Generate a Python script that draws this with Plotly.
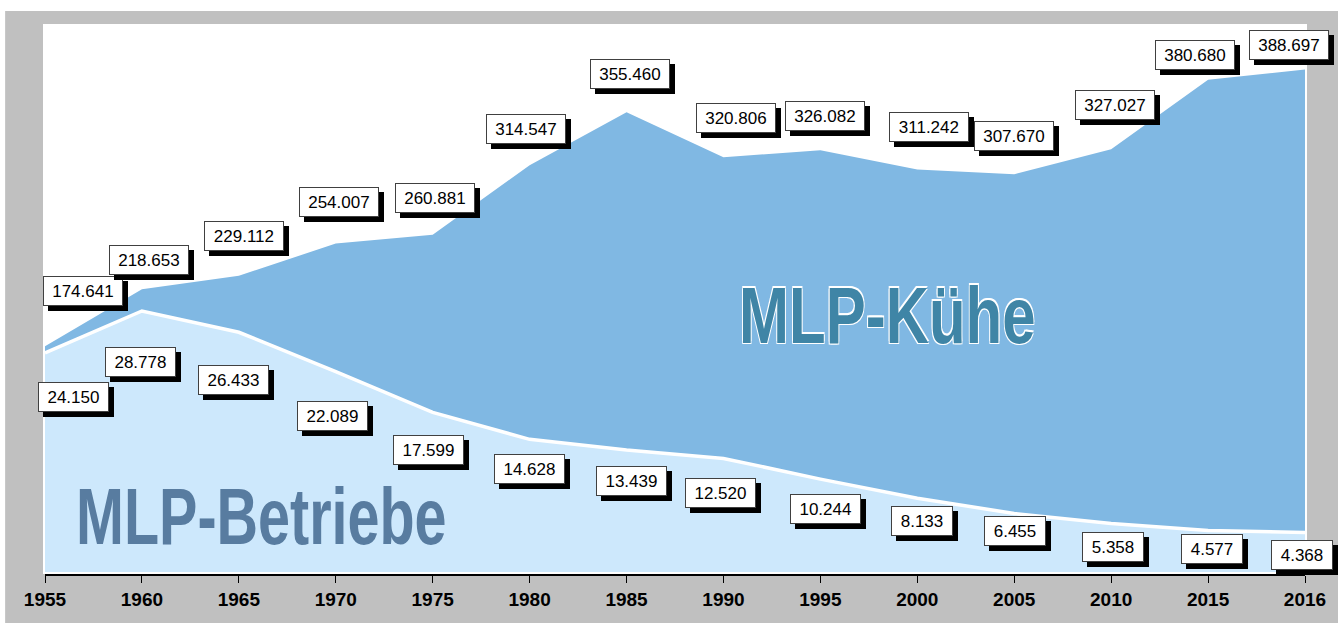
import plotly.graph_objects as go

# ---- data ----
years = ["1955", "1960", "1965", "1970", "1975", "1980", "1985", "1990",
         "1995", "2000", "2005", "2010", "2015", "2016"]
kuehe = [174641, 218653, 229112, 254007, 260881, 314547, 355460, 320806,
         326082, 311242, 307670, 327027, 380680, 388697]
betriebe = [24150, 28778, 26433, 22089, 17599, 14628, 13439, 12520,
            10244, 8133, 6455, 5358, 4577, 4368]


def de(v):
    return f"{v:,}".replace(",", ".")


kuehe_labels = [de(v) for v in kuehe]
betriebe_labels = [de(v) for v in betriebe]

# ---- label offsets (pixels, relative to data point) ----
kuehe_off = [(38, -55), (7, -29), (5.5, -40), (3, -42), (2, -37), (-4, -36),
             (3, -38), (13, -39), (5, -34), (12, -43), (0, -38), (3.5, -44),
             (-13, -25), (-16, -24)]
betriebe_off = [(28, 44), (-1, 51), (-5.5, 48), (-3, 44), (-4, 38), (0, 30),
                (4.6, 31), (-2.6, 35), (5, 30), (5, 23), (1, 17.5), (1.5, 23.6),
                (4, 18.5), (-3, 22.6)]

KUEHE_FILL = "#80b8e3"
BETR_FILL = "#cde8fc"

fig = go.Figure()
fig.add_trace(go.Scatter(
    x=list(range(len(years))), y=kuehe, mode="lines", fill="tozeroy",
    fillcolor=KUEHE_FILL, line=dict(width=0, color=KUEHE_FILL),
    yaxis="y", hoverinfo="skip", showlegend=False))
fig.add_trace(go.Scatter(
    x=list(range(len(years))), y=betriebe, mode="lines", fill="tozeroy",
    fillcolor=BETR_FILL, line=dict(width=3.5, color="white"),
    yaxis="y2", hoverinfo="skip", showlegend=False))

L, R, T, B = 45, 29, 24, 51
W, H = 1338, 625
PW, PH = W - L - R, H - T - B


def px(xp):
    return (xp - L) / PW


def py(yp):
    return (H - B - yp) / PH


shapes = [
    dict(type="rect", xref="paper", yref="paper", x0=px(43), x1=px(1311),
         y0=py(574), y1=py(24), fillcolor="white", line=dict(width=0), layer="below"),
    dict(type="rect", xref="paper", yref="paper", x0=px(-5), x1=px(1345),
         y0=py(11), y1=py(-5), fillcolor="white", line=dict(width=0), layer="below"),
    dict(type="rect", xref="paper", yref="paper", x0=px(-5), x1=px(5),
         y0=py(630), y1=py(-5), fillcolor="white", line=dict(width=0), layer="below"),
    dict(type="rect", xref="paper", yref="paper", x0=px(-5), x1=px(1345),
         y0=py(630), y1=py(623), fillcolor="white", line=dict(width=0), layer="below"),
]

annotations = []
LBL_FONT = "Liberation Sans, Arial, sans-serif"


def text_w(s, size=16):
    return sum(0.556 * size if c.isdigit() else 0.278 * size for c in s)


def add_label(i, val, text, yref, off):
    w = text_w(text) + 12
    common = dict(x=i, y=val, xref="x", yref=yref,
                  showarrow=False, xanchor="center", yanchor="middle",
                  width=w, height=20, borderpad=4, borderwidth=1)
    # drop shadow box (no text)
    annotations.append(dict(common, text="&nbsp;", xshift=off[0] + 5, yshift=-off[1] - 5,
                            bgcolor="black", bordercolor="black",
                            font=dict(family=LBL_FONT, size=17, color="black")))
    # white label box
    annotations.append(dict(common, text=text, xshift=off[0], yshift=-off[1],
                            bgcolor="white", bordercolor="#404040",
                            font=dict(family=LBL_FONT, size=17, color="black")))


for i in range(len(years)):
    add_label(i, kuehe[i], kuehe_labels[i], "y", kuehe_off[i])
    add_label(i, betriebe[i], betriebe_labels[i], "y2", betriebe_off[i])

BIG_FONT = "Liberation Sans, Arial, sans-serif"
annotations.append(dict(
    x=px(890), y=py(315), xref="paper", yref="paper", text="MLP-Kühe",
    showarrow=False, xanchor="center", yanchor="middle",
    font=dict(family=BIG_FONT, size=60, color="#3f85a6", weight="bold",
              shadow="1px 1px 0 white, -1px -1px 0 white, 1px -1px 0 white, -1px 1px 0 white")))
annotations.append(dict(
    x=px(262), y=py(516), xref="paper", yref="paper", text="MLP-Betriebe",
    showarrow=False, xanchor="center", yanchor="middle",
    font=dict(family=BIG_FONT, size=57.5, color="#587ca0", weight="bold")))

fig.update_layout(
    width=W, height=H,
    margin=dict(l=L, r=R, t=T, b=B, pad=0),
    paper_bgcolor="#c0c0c0",
    plot_bgcolor="white",
    showlegend=False,
    xaxis=dict(range=[0, len(years) - 1], showgrid=False,
               tickmode="array", tickvals=list(range(len(years))), ticktext=years,
               zeroline=False, showline=True, linecolor="black", linewidth=2,
               ticks="outside", ticklen=7, tickcolor="black", tickwidth=1,
               tickfont=dict(family="Liberation Sans, Arial, sans-serif",
                             size=19, color="black", weight="bold")),
    yaxis=dict(range=[-1550, 423800], visible=False, showgrid=False, zeroline=False),
    yaxis2=dict(range=[-220, 60420], overlaying="y", visible=False,
                showgrid=False, zeroline=False),
    shapes=shapes,
    annotations=annotations,
)

post = """
document.body.style.margin='0';
document.body.style.padding='0';
document.body.style.overflow='hidden';
function stretchBig(){
  var gd=document.getElementById('{plot_id}');
  if(!gd) return;
  var scales={'MLP-Kühe':1.32,'MLP-Betriebe':1.38};
  gd.querySelectorAll('text.annotation-text').forEach(function(t){
    var s=scales[t.textContent];
    if(!s) return;
    if(!t.hasAttribute('data-cy')){
      t.removeAttribute('transform');
      var b=t.getBBox();
      t.setAttribute('data-cy', b.y+b.height/2);
    }
    var cy=parseFloat(t.getAttribute('data-cy'));
    t.setAttribute('transform','translate(0,'+cy+') scale(1,'+s+') translate(0,'+(-cy)+')');
  });
}
stretchBig();
setTimeout(stretchBig,50);
setTimeout(stretchBig,300);
setTimeout(stretchBig,1000);
"""

fig.write_html("out.html", post_script=post, config={"displayModeBar": False})
